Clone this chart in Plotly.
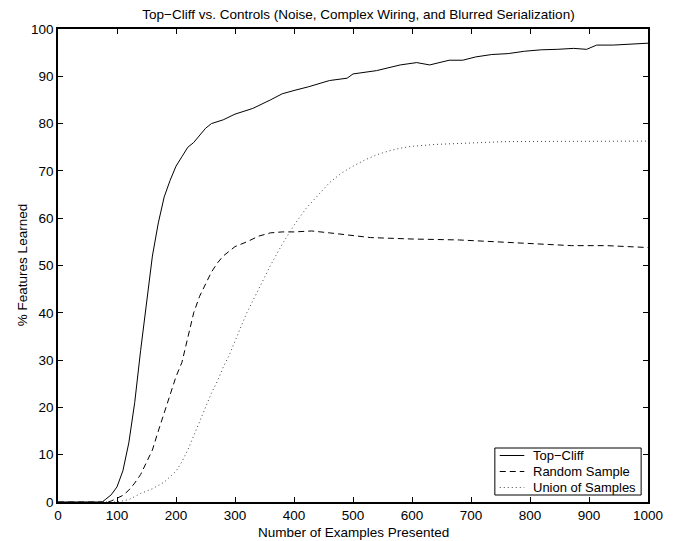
import plotly.graph_objects as go

# Top-Cliff (solid)
tc_x = [0, 75, 80, 90, 100, 110, 120, 130, 140, 150, 160, 170, 180, 190, 200, 210, 220, 230, 240,
        250, 260, 280, 300, 330, 360, 380, 400, 425, 460, 490, 500, 540, 580, 608, 630, 663, 686,
        708, 735, 763, 791, 819, 846, 874, 896, 913, 941, 974, 1000]
tc_y = [0, 0, 0.5, 1.5, 3.2, 6.6, 12.5, 21, 32, 42.5, 52, 59, 64.5, 68, 71, 73, 75, 76, 77.5,
        79, 80, 80.8, 82, 83.2, 85, 86.3, 87, 87.8, 89.1, 89.6, 90.5, 91.2, 92.4, 92.9, 92.4, 93.4, 93.4,
        94.1, 94.6, 94.8, 95.3, 95.6, 95.7, 95.9, 95.7, 96.6, 96.6, 96.8, 97.0]

# Random Sample (dashed)
rs_x = [0, 85, 90, 100, 110, 120, 130, 140, 150, 160, 170, 180, 190, 200, 210, 220, 230, 240, 250,
        260, 270, 280, 290, 300, 320, 340, 360, 380, 400, 430, 460, 500, 530, 600, 680, 760, 820,
        870, 930, 1000]
rs_y = [0, 0, 0.2, 0.8, 1.4, 2.5, 4, 5.8, 8.3, 11, 15, 19, 23, 26.5, 29.5, 35, 40, 43.5, 46,
        48.6, 50.5, 52, 53, 54, 55, 56.2, 56.9, 57.1, 57.1, 57.3, 56.9, 56.4, 55.9, 55.6, 55.4, 54.9, 54.5,
        54.2, 54.2, 53.8]

# Union of Samples (dotted)
us_x = [0, 100, 120, 140, 160, 180, 200, 210, 220, 230, 240, 250, 260, 270, 280, 290, 300, 310, 320,
        340, 360, 380, 400, 420, 440, 460, 480, 500, 520, 540, 560, 580, 600, 640, 700, 760, 1000]
us_y = [0, 0, 0.5, 1.8, 2.8, 4.2, 6.5, 8.5, 11, 14, 17, 20, 23, 25.5, 28.5, 31, 34, 37, 40,
        45, 50, 54.5, 58.5, 62, 64.8, 67.5, 69.5, 71, 72.3, 73.4, 74.2, 74.8, 75.2, 75.6, 75.9, 76.2, 76.3]

x_ticks = list(range(0, 1001, 100))
y_ticks = list(range(0, 101, 10))

series_names = ["Top\u2212Cliff", "Random Sample", "Union of Samples"]
series_colors = ["black", "black", "#444444"]
series_dashes = ["solid", "6px,4px", "1px,3px"]

FONT = "Liberation Sans"
FS = 13.5

W, H = 675, 541
L, R, T, B = 58, 16, 29, 39
PW, PH = W - L - R, H - T - B


def px2paper_x(px):
    return (px - L) / PW


def px2paper_y(py):
    return (H - B - py) / PH


fig = go.Figure()
for xs, ys, nm, col, dsh in zip([tc_x, rs_x, us_x], [tc_y, rs_y, us_y],
                                series_names, series_colors, series_dashes):
    fig.add_trace(go.Scatter(x=xs, y=ys, mode="lines", name=nm,
                             line=dict(color=col, width=1, dash=dsh)))

axis_common = dict(showgrid=False, zeroline=False, showline=True, linecolor="black", linewidth=1.5,
                   mirror="ticks", ticks="inside", ticklen=5, tickwidth=1, tickcolor="black",
                   tickfont=dict(family=FONT, size=FS, color="black"))

# legend box drawn in MATLAB style
box_l, box_r, box_t, box_b = 503, 652, 448, 495
shapes = [dict(type="rect", xref="paper", yref="paper",
               x0=px2paper_x(box_l), x1=px2paper_x(box_r),
               y0=px2paper_y(box_b), y1=px2paper_y(box_t),
               line=dict(color="black", width=1), fillcolor="white", layer="above")]
annotations = []
row_y = [455.5, 471.5, 487.5]
for ry, nm, col, dsh in zip(row_y, series_names, series_colors, series_dashes):
    shapes.append(dict(type="line", xref="paper", yref="paper",
                       x0=px2paper_x(508), x1=px2paper_x(533),
                       y0=px2paper_y(ry), y1=px2paper_y(ry),
                       line=dict(color=col, width=1, dash=dsh), layer="above"))
    annotations.append(dict(text=nm, xref="paper", yref="paper",
                            x=px2paper_x(540), y=px2paper_y(ry),
                            xanchor="left", yanchor="middle", showarrow=False,
                            font=dict(family=FONT, size=13, color="black")))

# axis titles
annotations.append(dict(text="Number of Examples Presented", xref="paper", yref="paper",
                        x=0.5, y=px2paper_y(532), xanchor="center", yanchor="middle",
                        showarrow=False, font=dict(family=FONT, size=FS, color="black")))
annotations.append(dict(text="% Features Learned", xref="paper", yref="paper",
                        x=px2paper_x(22), y=0.5, xanchor="center", yanchor="middle",
                        textangle=-90, showarrow=False,
                        font=dict(family=FONT, size=FS, color="black")))

fig.update_layout(
    width=W, height=H,
    margin=dict(l=L, r=R, t=T, b=B),
    paper_bgcolor="white", plot_bgcolor="white",
    title=dict(text="Top\u2212Cliff vs. Controls (Noise, Complex Wiring, and Blurred Serialization)",
               font=dict(family=FONT, size=FS, color="black"),
               x=(L + PW / 2) / W, xanchor="center",
               y=1 - 14 / H, yanchor="middle"),
    xaxis=dict(range=[0, 1000], tickvals=x_ticks, ticktext=[str(v) for v in x_ticks], **axis_common),
    yaxis=dict(range=[0, 100], tickvals=y_ticks, ticktext=[str(v) for v in y_ticks], **axis_common),
    shapes=shapes,
    annotations=annotations,
    showlegend=False,
)

fig.write_html("out.html")
